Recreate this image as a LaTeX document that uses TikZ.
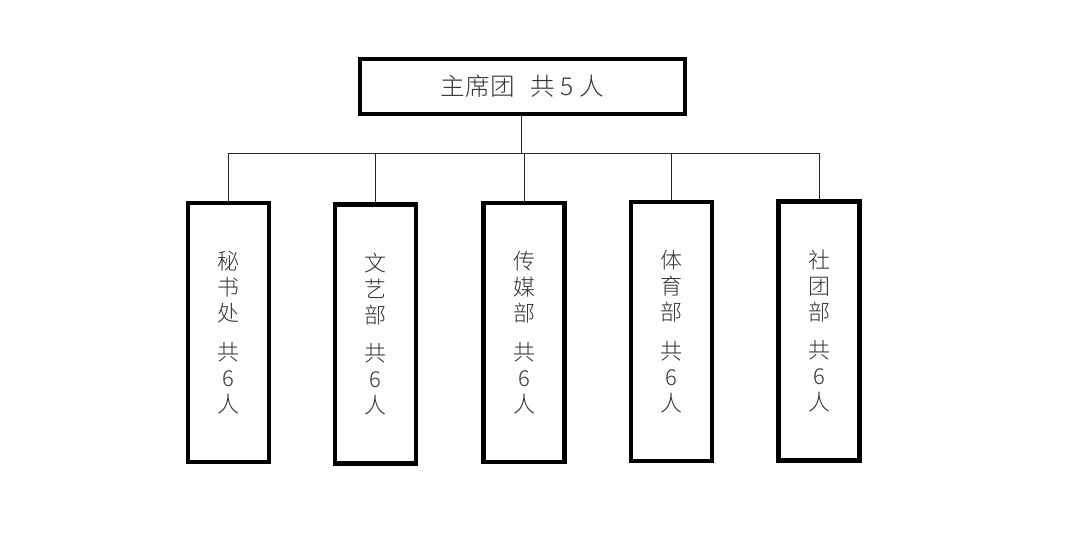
\documentclass[tikz,border=0pt]{standalone}
\usepackage{fontspec}
\newfontfamily\cjk{Noto Sans CJK SC Light}
\usetikzlibrary{calc}

\begin{document}
\begin{tikzpicture}[x=0.02cm, y=-0.02cm,
    box/.style={draw=black, line width=0.09cm, fill=white, inner sep=0pt,
        text=black!80, font=\cjk\fontsize{12.5}{14.8}\selectfont, align=center},
    dept/.style={box, minimum width=1.62cm, minimum height=5.18cm},
    link/.style={draw=black!85, line width=0.55pt}]
    % Canvas
    \useasboundingbox (0,0) rectangle (1080,546);
    
    % Top box
    \node[box, minimum width=6.5cm, minimum height=1.1cm,
        font=\cjk\fontsize{14}{16}\selectfont] (zxt) at (522.5,86.5) {主席团\ \ \ 共\ 5\ 人};
    
    % Departments
    \node[dept] (mishu)    at (228.5,332.5) {秘\\书\\处\\[0.25cm]共\\6\\人};
    \node[dept] (wenyi)    at (375.5,334)   {文\\艺\\部\\[0.25cm]共\\6\\人};
    \node[dept] (chuanmei) at (524,332.5)   {传\\媒\\部\\[0.25cm]共\\6\\人};
    \node[dept] (tiyu)     at (671.5,331.5) {体\\育\\部\\[0.25cm]共\\6\\人};
    \node[dept] (shetuan)  at (819,331)     {社\\团\\部\\[0.25cm]共\\6\\人};
    
    % Connectors
    \coordinate (bus) at (521,153);
    \draw[link] (zxt.south -| bus) -- (bus);
    \draw[link] (mishu.north |- bus) -- (shetuan.north |- bus);
    \foreach \d in {mishu,wenyi,chuanmei,tiyu,shetuan}
        \draw[link] (\d.north |- bus) -- (\d.north);
    
\end{tikzpicture}
\end{document}
